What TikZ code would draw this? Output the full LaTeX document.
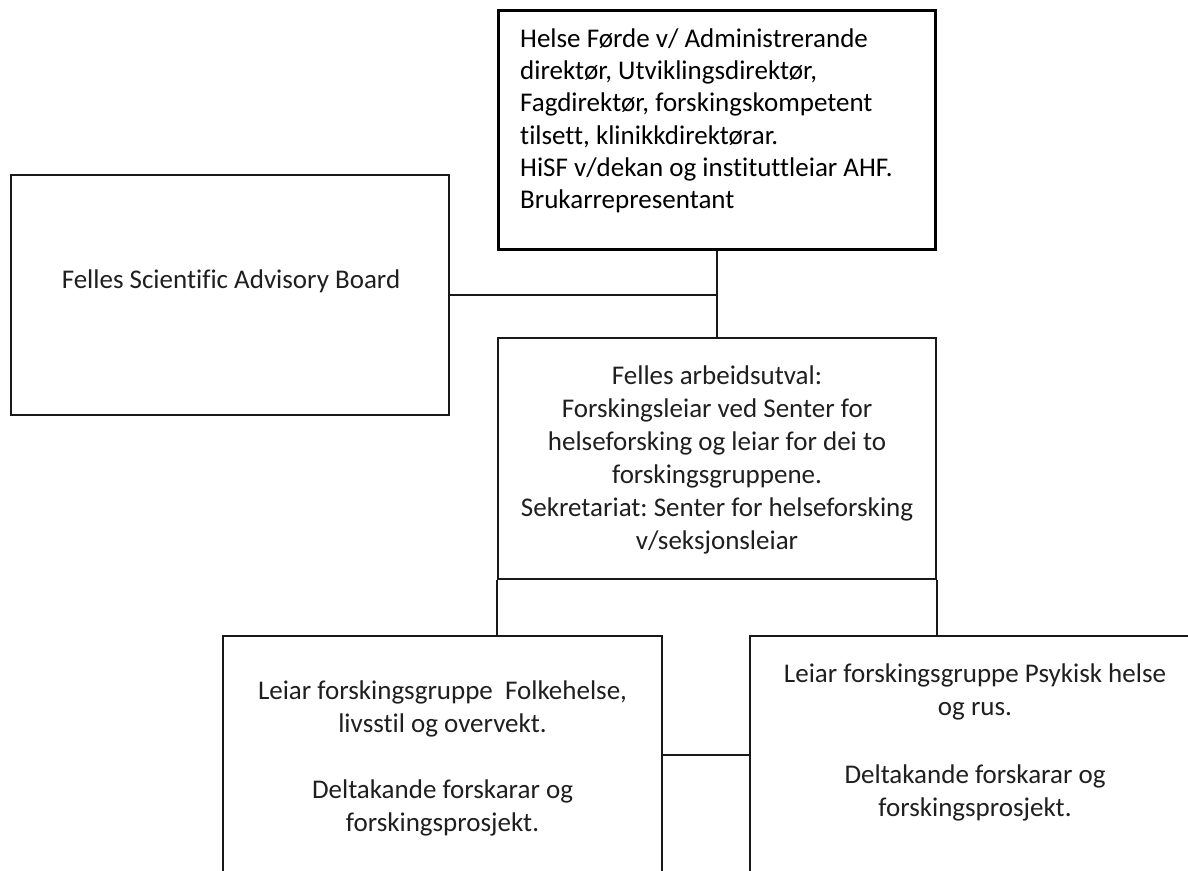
\documentclass[tikz,border=0pt]{standalone}
\usepackage{fontspec}
\setmainfont{Carlito}[Ligatures={TeX,NoCommon}]
\frenchspacing
\begin{document}
\begin{tikzpicture}[x=1pt,y=-1pt,
  box/.style={draw=black!90, line width=2pt, fill=white, rectangle, inner sep=0pt},
  topbox/.style={box, line width=3pt, draw=black},
  cal/.style={font=\frenchspacing\fontsize{27}{33}\selectfont, text=black!88, inner sep=0pt},
  toptxt/.style={font=\frenchspacing\fontsize{27}{32.2}\selectfont, text=black, inner sep=0pt},
  conn/.style={draw=black!90, line width=2pt}]
\clip (0,0) rectangle (1188,870);
\fill[white] (0,0) rectangle (1188,870);

% boxes
\node[topbox, minimum width=437pt, minimum height=239pt] (top) at (716.5,129.5) {};
\node[box, minimum width=438pt, minimum height=240pt] (left) at (230,295) {};
\node[box, minimum width=438pt, minimum height=241pt] (mid) at (717,458.5) {};
\node[box, minimum width=439pt, minimum height=284pt] (lb) at (442.5,778) {};
\node[box, minimum width=445pt, minimum height=284pt] (rb) at (972.5,778) {};

% texts
\node[toptxt, anchor=north west, align=left] (toptext) at (520,28.5)
  {Helse Førde v/ Administrerande\\
   direktør, Utviklingsdirektør,\\
   Fagdirektør, forskingskompetent\\
   tilsett, klinikkdirektørar.\\
   HiSF v/dekan og instituttleiar AHF.\\
   Brukarrepresentant};
\node[cal, anchor=base] (lefttext) at (231,288) {Felles Scientific Advisory Board};
\node[cal, anchor=north, align=center] (midtext) at (717,366)
  {Felles arbeidsutval:\\
   Forskingsleiar ved Senter for\\
   helseforsking og leiar for dei to\\
   forskingsgruppene.\\
   Sekretariat: Senter for helseforsking\\
   v/seksjonsleiar};
\node[cal, anchor=north, align=center] (lbtext) at (442.5,681)
  {Leiar forskingsgruppe\ \ Folkehelse,\\
   livsstil og overvekt.\\[33pt]
   Deltakande forskarar og\\
   forskingsprosjekt.};
\node[cal, anchor=north, align=center] (rbtext) at (975,664)
  {Leiar forskingsgruppe Psykisk helse\\
   og rus.\\[35pt]
   Deltakande forskarar og\\
   forskingsprosjekt.};

% connectors
\coordinate (j) at (0,755);
\draw[conn] (top.south) -- (top.south |- mid.north);
\draw[conn] (left.east) -- (left.east -| top.south);
\draw[conn] (mid.south west) -- (mid.south west |- lb.north);
\draw[conn] (mid.south east) -- (mid.south east |- rb.north);
\draw[conn] (lb.east |- j) -- (rb.west |- j);
\end{tikzpicture}
\end{document}
